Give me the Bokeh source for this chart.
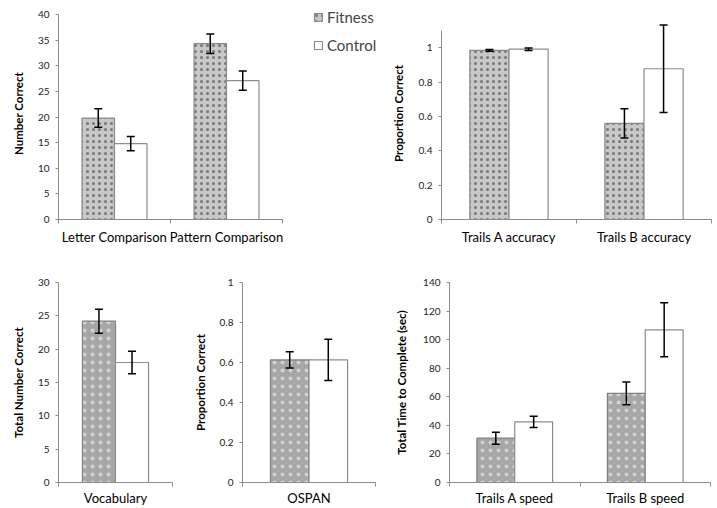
from bokeh.plotting import figure
from bokeh.layouts import column, row
from bokeh.models import (ColumnDataSource, Range1d, FixedTicker, Whisker, TeeHead,
                          Legend, LegendItem)
from bokeh.transform import dodge
from bokeh.embed import file_html
from bokeh.resources import INLINE

# ---------------- data ----------------
speed_cats = ["Letter Comparison", "Pattern Comparison"]
speed_fitness = [19.8, 34.3]
speed_fitness_err = [1.8, 1.9]
speed_control = [14.8, 27.1]
speed_control_err = [1.4, 1.9]

tacc_cats = ["Trails A accuracy", "Trails B accuracy"]
tacc_fitness = [0.985, 0.56]
tacc_fitness_err = [0.005, 0.085]
tacc_control = [0.992, 0.878]
tacc_control_err = [0.007, 0.255]

vocab_cats = ["Vocabulary"]
vocab_fitness = [24.2]
vocab_fitness_err = [1.8]
vocab_control = [18.0]
vocab_control_err = [1.7]

ospan_cats = ["OSPAN"]
ospan_fitness = [0.613]
ospan_fitness_err = [0.041]
ospan_control = [0.613]
ospan_control_err = [0.103]

tspd_cats = ["Trails A speed", "Trails B speed"]
tspd_fitness = [31.0, 62.4]
tspd_fitness_err = [4.2, 8.0]
tspd_control = [42.4, 106.9]
tspd_control_err = [3.9, 18.9]

FONT = "Lato"
AXIS_GRAY = "#8c8c8c"
BAR_W = 0.29
OFF = 0.145

TOP_STYLE = dict(fill_color="#c8c8c8", line_color="#8a8a8a", hatch_pattern=".",
                 hatch_color="black", hatch_scale=6, hatch_weight=0.5, hatch_alpha=0.4)
BOT_STYLE = dict(fill_color="#a6a6a6", line_color="#808080", hatch_pattern=".",
                 hatch_color="white", hatch_scale=8, hatch_weight=0.5, hatch_alpha=0.5)


def panel(cats, fit, fit_err, ctl, ctl_err, ymax, yticks, ylabel, style,
          fw, fh, bl, br, bt, bb, label_override=None, ylabel_standoff=10,
          ybound=None, xend=None):
    n = len(cats)
    xs = [i + 0.5 for i in range(n)]
    src = ColumnDataSource(dict(
        x=xs, fit=fit, ctl=ctl,
        fu=[v + e for v, e in zip(fit, fit_err)], fl=[v - e for v, e in zip(fit, fit_err)],
        cu=[v + e for v, e in zip(ctl, ctl_err)], cl=[v - e for v, e in zip(ctl, ctl_err)],
    ))
    p = figure(frame_width=fw, frame_height=fh, min_border_left=bl, min_border_right=br,
               min_border_top=bt, min_border_bottom=bb,
               x_range=Range1d(0, xend if xend else n), y_range=Range1d(0, ymax),
               output_backend="svg", toolbar_location=None, tools="")
    p.outline_line_color = None
    p.xgrid.visible = False
    p.ygrid.visible = False
    p.background_fill_color = "white"

    rf = p.vbar(x=dodge("x", -OFF, range=p.x_range), top="fit", width=BAR_W, source=src,
                line_width=1.2, **style)
    rc = p.vbar(x=dodge("x", OFF, range=p.x_range), top="ctl", width=BAR_W, source=src,
                fill_color="white", line_color="#8c8c8c", line_width=1.2)

    for base, up, lo in ((dodge("x", -OFF, range=p.x_range), "fu", "fl"),
                         (dodge("x", OFF, range=p.x_range), "cu", "cl")):
        w = Whisker(source=src, base=base, upper=up, lower=lo, dimension="height",
                    line_color="black", line_width=1.5, level="overlay",
                    upper_head=TeeHead(size=8, line_color="black", line_width=1.5),
                    lower_head=TeeHead(size=8, line_color="black", line_width=1.5))
        p.add_layout(w)

    xa = p.xaxis[0]
    xa.ticker = FixedTicker(ticks=xs, minor_ticks=list(range(n + 1)))
    xa.bounds = (0, n)
    xa.major_label_overrides = {x: c for x, c in zip(xs, cats)}
    xa.major_tick_line_color = None
    xa.major_tick_out = 0
    xa.minor_tick_in = 0
    xa.minor_tick_out = 4
    xa.minor_tick_line_color = AXIS_GRAY
    xa.axis_line_color = AXIS_GRAY
    xa.major_label_standoff = 5
    xa.major_label_text_font = FONT
    xa.major_label_text_font_size = "13px"
    xa.major_label_text_color = "black"

    ya = p.yaxis[0]
    ya.ticker = FixedTicker(ticks=yticks)
    ya.bounds = (0, ybound if ybound is not None else ymax)
    if label_override:
        ya.major_label_overrides = label_override
    ya.minor_tick_line_color = None
    ya.major_tick_in = 0
    ya.major_tick_out = 3
    ya.major_tick_line_color = AXIS_GRAY
    ya.axis_line_color = AXIS_GRAY
    ya.major_label_standoff = 6
    ya.major_label_text_font = FONT
    ya.major_label_text_font_size = "10px"
    ya.major_label_text_color = "#222222"
    ya.axis_label = ylabel
    ya.axis_label_text_font = FONT
    ya.axis_label_text_font_style = "bold"
    ya.axis_label_text_font_size = "11.5px"
    ya.axis_label_text_color = "black"
    ya.axis_label_standoff = ylabel_standoff
    return p, rf, rc


# top row: frames y 7..219 (axes drawn only over their data bounds)
# p1 data area x 58..282 (224 px for 2 categories); frame extended right for the legend
P1_FW = 330
p1, rf1, rc1 = panel(speed_cats, speed_fitness, speed_fitness_err, speed_control,
                     speed_control_err, 40 * 212 / 205, [0, 5, 10, 15, 20, 25, 30, 35, 40],
                     "Number Correct", TOP_STYLE, P1_FW, 212, 58, 0, 7, 35,
                     ybound=40, xend=2 * P1_FW / 224)
p2, _, _ = panel(tacc_cats, tacc_fitness, tacc_fitness_err, tacc_control, tacc_control_err,
                 212 / 171.7, [0, 0.2, 0.4, 0.6, 0.8, 1.0], "Proportion Correct", TOP_STYLE,
                 270, 212, 51, 8, 7, 35, label_override={0: "0", 1: "1"},
                 ylabel_standoff=11, ybound=1.1)

leg = Legend(items=[LegendItem(label="Fitness", renderers=[rf1]),
                    LegendItem(label="Control", renderers=[rc1])],
             location=(255, 164), glyph_width=10, glyph_height=10, label_height=20,
             spacing=8, padding=0, margin=0, label_standoff=4,
             label_text_font=FONT, label_text_font_size="15px",
             border_line_color=None, background_fill_alpha=0)
p1.add_layout(leg, "center")

# bottom row: frames y 282..482
p3, _, _ = panel(vocab_cats, vocab_fitness, vocab_fitness_err, vocab_control,
                 vocab_control_err, 30, [0, 5, 10, 15, 20, 25, 30],
                 "Total Number Correct", BOT_STYLE, 114, 200, 58, 10, 28, 26)
p4, _, _ = panel(ospan_cats, ospan_fitness, ospan_fitness_err, ospan_control,
                 ospan_control_err, 1.0, [0, 0.2, 0.4, 0.6, 0.8, 1.0],
                 "Proportion Correct", BOT_STYLE, 133, 200, 60, 15, 28, 26,
                 label_override={0: "0", 1: "1"})
p5, _, _ = panel(tspd_cats, tspd_fitness, tspd_fitness_err, tspd_control,
                 tspd_control_err, 140, [0, 20, 40, 60, 80, 100, 120, 140],
                 "Total Time to Complete (sec)", BOT_STYLE, 261, 200, 59, 7, 28, 26,
                 ylabel_standoff=12)
for p in (p3, p4, p5):
    p.xaxis[0].major_label_standoff = 3

layout = column(row(p1, p2), row(p3, p4, p5))
open("out.html", "w").write(file_html(layout, INLINE))
